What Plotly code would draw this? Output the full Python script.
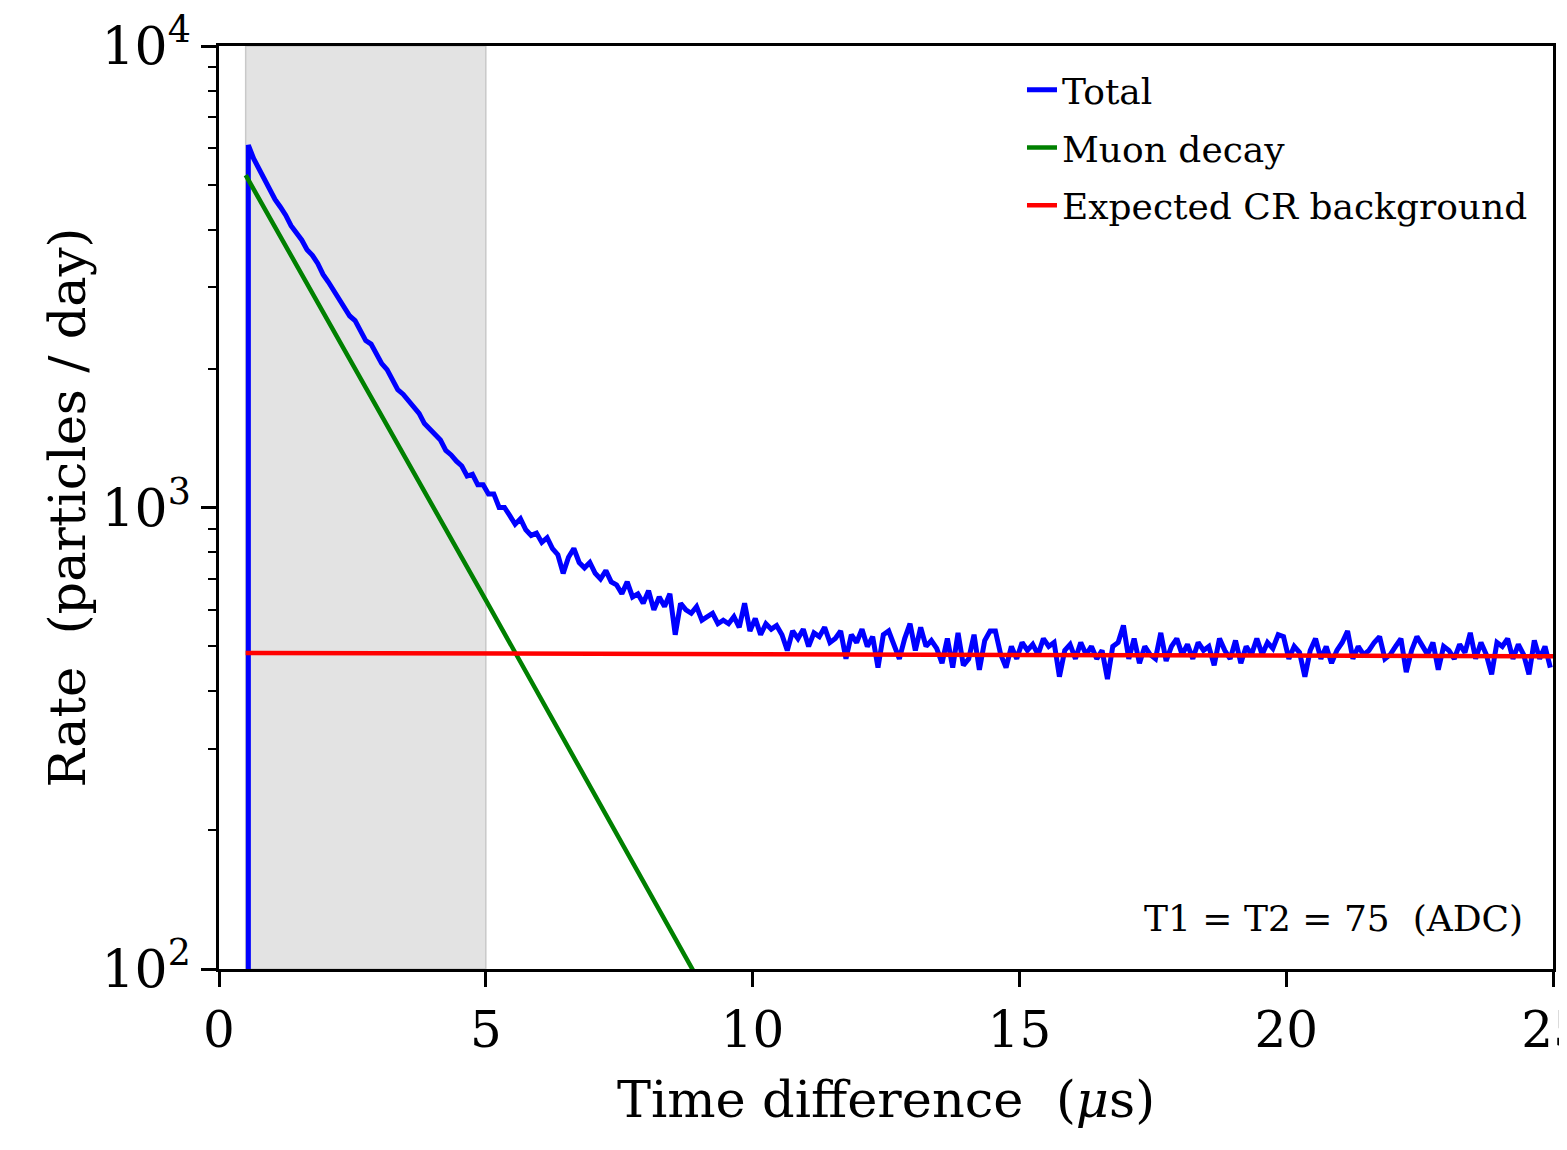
import plotly.graph_objects as go

# Total rate, one value every 0.1 us starting at 0.55 us
total_rate = [
    6100, 5700, 5400, 5150, 4880, 4650, 4480, 4300, 4080, 3950,
    3800, 3620, 3520, 3380, 3200, 3080, 2950, 2820, 2700, 2600,
    2540, 2430, 2300, 2260, 2150, 2050, 1990, 1890, 1800, 1760,
    1700, 1640, 1600, 1520, 1480, 1430, 1400, 1330, 1300, 1260,
    1230, 1170, 1180, 1120, 1120, 1070, 1070, 1000, 1000, 960,
    920, 945, 895, 870, 880, 840, 860, 815, 790, 720,
    780, 815, 760, 740, 760, 720, 700, 730, 690, 680,
    650, 690, 640, 650, 620, 660, 600, 640, 610, 650,
    530, 620, 600, 590, 610, 570, 580, 590, 560, 570,
    560, 580, 550, 620, 540, 575, 530, 560, 545, 555,
    530, 490, 540, 520, 545, 500, 535, 525, 550, 510,
    520, 540, 470, 530, 510, 545, 500, 525, 450, 530,
    540, 505, 470, 520, 560, 490, 550, 500, 515, 495,
    460, 520, 450, 535, 455, 470, 530, 445, 515, 540,
    540, 480, 450, 500, 470, 510, 490, 505, 480, 520,
    500, 510, 430, 490, 505, 470, 510, 480, 500, 470,
    490, 425, 500, 510, 555, 470, 520, 460, 500, 480,
    470, 535, 465, 500, 520, 480, 505, 470, 510, 490,
    500, 455, 520, 490, 470, 515, 460, 500, 480, 520,
    480, 510, 495, 530, 525, 470, 500, 485, 430, 490,
    520, 470, 500, 460, 490, 510, 540, 470, 500, 480,
    490, 510, 525, 470, 480, 500, 520, 440, 490, 525,
    500, 480, 510, 445, 500, 490, 470, 505, 485, 535,
    470, 510, 480, 435, 510, 500, 520, 470, 505, 480,
    435, 515, 470, 500, 450,
]
total_t = [round(0.55 + 0.1 * i, 2) for i in range(len(total_rate))]
# first bin is empty -> vertical rise from below the axis
total_t = [0.55] + total_t
total_rate = [10] + total_rate

muon_t = [0.5, 5.0, 9.0]
muon_rate = [5250, 630, 94]

bkg_t = [0.5, 25.0]
bkg_rate = [484, 476]

FONT = "DejaVu Serif"

fig = go.Figure()
fig.add_vrect(x0=0.5, x1=5, fillcolor="#e3e3e3", line_color="#c9c9c9", line_width=1.5,
              layer="below")

fig.add_trace(go.Scatter(x=total_t, y=total_rate, mode="lines", name="Total",
                         legendgroup="a", line=dict(color="#0000ff", width=5)))
fig.add_trace(go.Scatter(x=muon_t, y=muon_rate, mode="lines", name="Muon decay",
                         legendgroup="b", line=dict(color="#008000", width=4.5)))
fig.add_trace(go.Scatter(x=bkg_t, y=bkg_rate, mode="lines", name="Expected CR background",
                         legendgroup="c", line=dict(color="#ff0000", width=4.5)))

fig.add_annotation(text="T1 = T2 = 75 \u00a0(ADC)", xref="paper", yref="paper",
                   x=0.979, y=0.055, xanchor="right", yanchor="middle", showarrow=False,
                   font=dict(family=FONT, size=36, color="black"))

minor_vals = [m * d for d in (100, 1000) for m in range(2, 10)]

fig.update_layout(
    width=1567, height=1150,
    margin=dict(l=211, r=22, t=38, b=189, autoexpand=False),
    plot_bgcolor="white", paper_bgcolor="white",
    font=dict(family=FONT, color="black"),
    legend=dict(x=0.985, y=0.985, xanchor="right", yanchor="top",
                bgcolor="rgba(0,0,0,0)", font=dict(family=FONT, size=36),
                tracegroupgap=8),
    xaxis=dict(range=[0, 25], tickvals=[0, 5, 10, 15, 20, 25], automargin=False,
               ticks="outside", ticklen=15, tickwidth=2.5, tickcolor="black",
               ticklabeloverflow="allow",
               showline=True, linecolor="black", linewidth=2.5, mirror=True,
               showgrid=False, zeroline=False, tickfont=dict(size=50),
               title=dict(text="Time difference \u00a0(<i>\u03bc</i>s)",
                          font=dict(size=51), standoff=24)),
    yaxis=dict(type="log", range=[2, 4], tickvals=[100, 1000, 10000], automargin=False,
               ticktext=["10<sup>2</sup>", "10<sup>3</sup>", "10<sup>4</sup>"],
               ticks="outside", ticklen=15, tickwidth=2.5, tickcolor="black",
               ticklabeloverflow="allow",
               minor=dict(tickvals=minor_vals, ticks="outside", ticklen=8,
                          tickwidth=2, tickcolor="black", showgrid=False),
               showline=True, linecolor="black", linewidth=2.5, mirror=True,
               showgrid=False, zeroline=False, tickfont=dict(size=52),
               title=dict(text="Rate \u00a0(particles / day)",
                          font=dict(size=51), standoff=0)),
)

fig.write_html("out.html")
